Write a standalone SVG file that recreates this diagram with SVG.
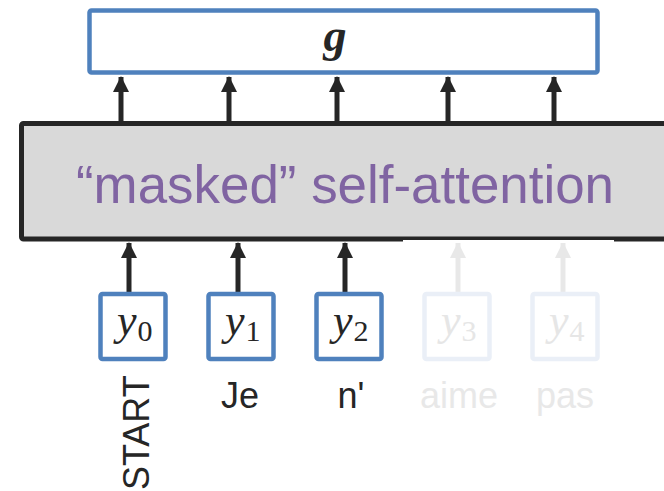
<svg xmlns="http://www.w3.org/2000/svg" width="664" height="491" viewBox="0 0 664 491">
<style>
.blue{fill:#fff;stroke:#4F81BD;stroke-width:4.5}
.fblue{fill:#fff;stroke:#EAEFF7;stroke-width:4.5}
.conn{stroke:#262626;stroke-width:5;fill:none}
.fconn{stroke:#E8E8E8;stroke-width:5;fill:none}
.word{font-family:"Liberation Sans",Arial,sans-serif;font-size:36px;fill:#262626}
.fword{font-family:"Liberation Sans",Arial,sans-serif;font-size:36px;fill:#E8E8E8}
.math{font-family:"Liberation Serif","DejaVu Serif",serif;font-size:44px;font-style:italic;fill:#262626}
.sub{font-style:normal;font-size:30px}
.fmath{fill:#E6E6E6}
</style>
<defs>
<marker id="ah" viewBox="0 0 16 16" markerWidth="16" markerHeight="16" refX="15" refY="8" orient="auto" markerUnits="userSpaceOnUse">
<path d="M0,0 L16,8 L0,16 z" fill="#262626"/>
</marker>
<marker id="fah" viewBox="0 0 16 16" markerWidth="16" markerHeight="16" refX="15" refY="8" orient="auto" markerUnits="userSpaceOnUse">
<path d="M0,0 L16,8 L0,16 z" fill="#E8E8E8"/>
</marker>
</defs>
<g id="attention">
<rect x="21.5" y="123.5" width="660" height="115.5" fill="#D9D9D9" stroke="#262626" stroke-width="5" rx="2"/>
<text x="345" y="203" text-anchor="middle" font-family="'Liberation Sans',Arial,sans-serif" font-size="53" fill="#8064A2" textLength="538" lengthAdjust="spacingAndGlyphs">“masked” self-attention</text>
</g>
<g id="g-box">
<rect class="blue" x="89.5" y="10.5" width="508" height="62" rx="2"/>
<text x="335" y="51" text-anchor="middle" font-family="'Liberation Serif','DejaVu Serif',serif" font-size="46" font-style="italic" font-weight="bold" fill="#262626">g</text>
</g>
<g id="connectors">
<line class="conn" x1="121" y1="121" x2="121" y2="77" marker-end="url(#ah)"/>
<line class="conn" x1="229" y1="121" x2="229" y2="77" marker-end="url(#ah)"/>
<line class="conn" x1="337" y1="121" x2="337" y2="77" marker-end="url(#ah)"/>
<line class="conn" x1="448" y1="121" x2="448" y2="77" marker-end="url(#ah)"/>
<line class="conn" x1="554" y1="121" x2="554" y2="77" marker-end="url(#ah)"/>
<line class="conn" x1="129" y1="292" x2="129" y2="243" marker-end="url(#ah)"/>
<line class="conn" x1="238" y1="292" x2="238" y2="243" marker-end="url(#ah)"/>
<line class="conn" x1="345" y1="292" x2="345" y2="243" marker-end="url(#ah)"/>
<line class="fconn" x1="458" y1="292" x2="458" y2="243" marker-end="url(#fah)"/>
<line class="fconn" x1="563" y1="292" x2="563" y2="243" marker-end="url(#fah)"/>
</g>
<rect x="403" y="240" width="211" height="3" fill="#fff"/>
<g id="y0">
<rect class="blue" x="100.5" y="294" width="65" height="65" rx="2"/>
<text class="math" x="117" y="335">y<tspan class="sub" dx="1" dy="6">0</tspan></text>
<text class="word" transform="translate(149,490) rotate(-90)">START</text>
</g>
<g id="y1">
<rect class="blue" x="208.5" y="294" width="65" height="65" rx="2"/>
<text class="math" x="225" y="335">y<tspan class="sub" dx="1" dy="6">1</tspan></text>
<text class="word" x="240" y="408" text-anchor="middle">Je</text>
</g>
<g id="y2">
<rect class="blue" x="316.5" y="294" width="65" height="65" rx="2"/>
<text class="math" x="333" y="335">y<tspan class="sub" dx="1" dy="6">2</tspan></text>
<text class="word" x="351" y="408" text-anchor="middle">n'</text>
</g>
<g id="y3">
<rect class="fblue" x="424.5" y="294" width="65" height="65" rx="2"/>
<text class="math fmath" x="441" y="335">y<tspan class="sub" dx="1" dy="6">3</tspan></text>
<text class="fword" x="459" y="408" text-anchor="middle">aime</text>
</g>
<g id="y4">
<rect class="fblue" x="532.5" y="294" width="65" height="65" rx="2"/>
<text class="math fmath" x="549" y="335">y<tspan class="sub" dx="1" dy="6">4</tspan></text>
<text class="fword" x="565" y="408" text-anchor="middle">pas</text>
</g>
</svg>
